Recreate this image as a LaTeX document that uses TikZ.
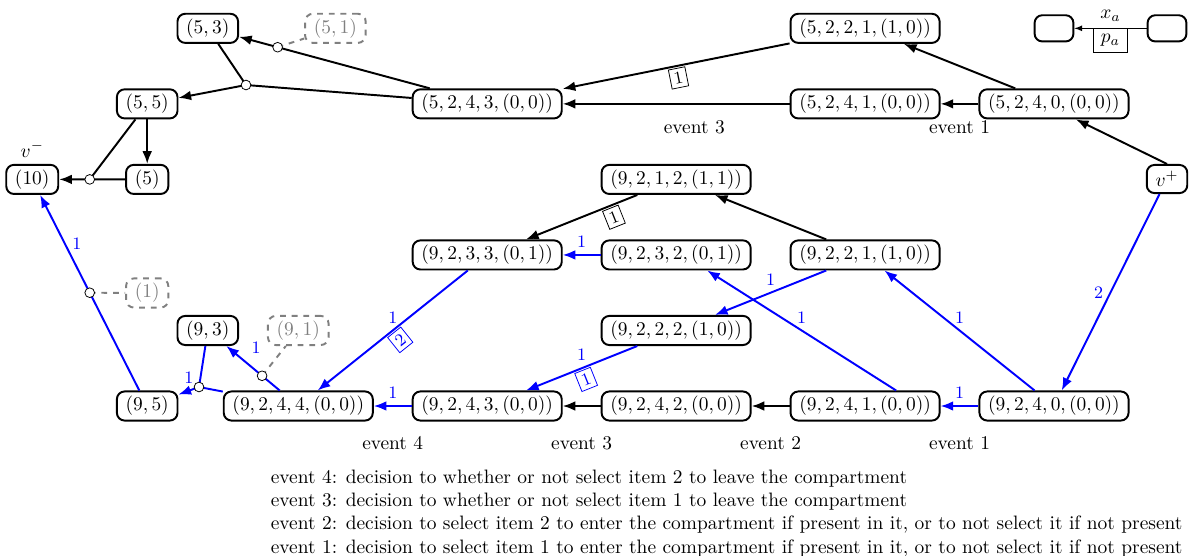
\documentclass[tikz,border=0pt]{standalone}
\usepackage{amsmath}
\usepackage{tikz}
\usetikzlibrary{arrows, arrows.meta, calc}
\tikzstyle{state} = [rectangle, rounded corners, line width=1pt, draw=black, inner xsep=4.5pt, inner ysep=2.5pt, minimum height=14.5pt]
\tikzstyle{ghost} = [state, draw=gray, dashed, text=gray]
\tikzstyle{legnode} = [state, minimum width=20pt, minimum height=13.5pt]
\tikzstyle{joint} = [circle, draw=black, fill=white, thin, inner sep=0pt, minimum size=5pt]
\tikzstyle{arrow} = [line width=1pt, ->, >={Latex[length=6.5pt, width=5pt]}]
\tikzstyle{link} = [line width=1pt]
\tikzstyle{hint} = [line width=1pt, dashed, gray]
\tikzstyle{weight} = [font=\small, above]
\tikzstyle{weightbox} = [font=\small, draw, thin, sloped, below=1pt, inner sep=2pt]
\tikzstyle{eventlbl} = [text=black, below=12pt]

\begin{document}
\begin{tikzpicture}[x=0.515pt, y=-0.515pt, node distance=97.3pt]
  \useasboundingbox (0,0) rectangle (1193,555);
  % item 9 layer
  \node (n9240) [state] at (1054,406) {$(9,2,4,0,(0,0))$};
  \node (n9241) [state, left of=n9240] {$(9,2,4,1,(0,0))$};
  \node (n9242) [state, left of=n9241] {$(9,2,4,2,(0,0))$};
  \node (n9243) [state, left of=n9242] {$(9,2,4,3,(0,0))$};
  \node (n9244) [state, left of=n9243] {$(9,2,4,4,(0,0))$};
  \node (n95) [state, left of=n9244, xshift=19.5pt] {$(9,5)$};
  \node (n93) [state, above of=n95, xshift=31.2pt, yshift=-58.4pt] {$(9,3)$};
  \node (n91) [ghost, above of=n9244, yshift=-58.4pt] {$(9,1)$};
  \node (n1) [ghost, above of=n95, yshift=-39.1pt] {$(1)$};
  \node (n9222) [state, above of=n9242, yshift=-58.4pt] {$(9,2,2,2,(1,0))$};
  \node (n9221) [state, above of=n9241, yshift=-19.5pt] {$(9,2,2,1,(1,0))$};
  \node (n9232) [state, left of=n9221] {$(9,2,3,2,(0,1))$};
  \node (n9233) [state, left of=n9232] {$(9,2,3,3,(0,1))$};
  \node (n9212) [state, above of=n9232, yshift=-58.4pt] {$(9,2,1,2,(1,1))$};
  \node (vplus) [state, above of=n9240, xshift=58.2pt, yshift=19.6pt] {$v^+$};
  % item 5 layer
  \node (n5240) [state, above of=n9240, yshift=58.3pt] {$(5,2,4,0,(0,0))$};
  \node (n5241) [state, left of=n5240] {$(5,2,4,1,(0,0))$};
  \node (n5243) [state, left of=n5241, xshift=-97.3pt] {$(5,2,4,3,(0,0))$};
  \node (n5221) [state, above of=n5241, yshift=-58.4pt] {$(5,2,2,1,(1,0))$};
  \node (n55) [state, above of=n95, yshift=58.3pt] {$(5,5)$};
  \node (n53) [state, above of=n55, xshift=31.2pt, yshift=-58.4pt] {$(5,3)$};
  \node (n51) [ghost, right of=n53, xshift=-31.6pt] {$(5,1)$};
  \node (n5) [state, below of=n55, yshift=58.4pt] {$(5)$};
  \node (n10) [state, left of=n5, xshift=38.1pt, label=above:$v^-$] {$(10)$};
  % legend
  \node (lega) [legnode, above of=n5240, yshift=-58.4pt] {};
  \node (legb) [legnode, right of=lega, xshift=-39.1pt] {};
  \draw[-latex] (legb) -- node[above]{$x_a$} node[below, draw, thin, inner xsep=4pt, inner ysep=3pt]{$p_a$} (lega);

  % junctions
  \coordinate (j1) at ($(n53)!0.25!(n5243)$);
  \coordinate (j2) at (246,85);
  \coordinate (j3) at ($(n10)!0.5!(n5)$);
  \coordinate (j4) at ($(n95)!0.5!(n10)$);
  \coordinate (j5) at (199,387);
  \coordinate (j6) at ($(n9244)!0.4!(n93)$);

  % black arcs
  \draw[arrow] (n5221) -- node[weightbox]{1} (n5243);
  \draw[arrow] (n5241) -- node[below=5pt, pos=0.42]{event 3} (n5243);
  \draw[arrow] (n5240) -- (n5221);
  \draw[arrow] (n5240) -- node[below=5pt]{event 1} (n5241);
  \draw[arrow] (vplus.north) -- ([xshift=11.3pt]n5240.south);
  \draw[link] (n5243) -- (j1);
  \draw[arrow] (j1) -- (n53);
  \draw[hint] (j1) -- (n51);
  \draw[link] (n5243) -- (j2);
  \draw[link] (n53) -- (j2);
  \draw[arrow] (j2) -- (n55);
  \draw[arrow] (n55) -- (n5);
  \draw[link] (n55) -- (j3);
  \draw[link] (n5) -- (j3);
  \draw[arrow] (j3) -- (n10);
  \draw[arrow] (n9241) -- node[eventlbl]{event 2} (n9242);
  \draw[arrow] (n9242) -- node[eventlbl]{event 3} (n9243);
  \draw[arrow] (n9221) -- (n9212);
  \draw[arrow] (n9212) -- node[weightbox, near start]{1} (n9233);

  % blue arcs
  \draw[arrow, blue] (vplus) -- node[weight, left]{2} (n9240);
  \draw[arrow, blue] (n9240) -- node[weight]{1} node[eventlbl]{event 1} (n9241);
  \draw[arrow, blue] (n9240) -- node[weight]{1} (n9221);
  \draw[arrow, blue] ([xshift=16pt]n9241.north) -- node[weight]{1} ([xshift=16pt]n9232.south);
  \draw[arrow, blue] (n9221) -- node[weight]{1} (n9222);
  \draw[arrow, blue] (n9232) -- node[weight]{1} (n9233);
  \draw[arrow, blue] (n9222) -- node[weight]{1} node[weightbox]{1} (n9243);
  \draw[arrow, blue] (n9233) -- node[weight]{1} node[weightbox]{2} (n9244);
  \draw[arrow, blue] (n9243) -- node[weight]{1} node[eventlbl]{event 4} (n9244);
  \draw[link, blue] (n9244) -- (j6);
  \draw[arrow, blue] (j6) -- node[weight, above right]{1} (n93);
  \draw[hint] (j6) -- (n91);
  \draw[link, blue] (n9244) -- (j5);
  \draw[link, blue] (n93) -- (j5);
  \draw[arrow, blue] (j5) -- node[weight]{1} (n95);
  \draw[link, blue] (n95) -- (j4);
  \draw[arrow, blue] (j4) -- node[weight, right]{1} (n10);
  \draw[hint] (j4) -- (n1);

  \foreach \j in {j1,j2,j3,j4,j5,j6}
    \node[joint] at (\j) {};

  \node (notes) [anchor=north west, align=left] at (264,463) {event 4: decision to whether or not select item 2 to leave the compartment\\
    event 3: decision to whether or not select item 1 to leave the compartment\\
    event 2: decision to select item 2 to enter the compartment if present in it, or to not select it if not present\\
    event 1: decision to select item 1 to enter the compartment if present in it, or to not select it if not present};
\end{tikzpicture}
\end{document}
